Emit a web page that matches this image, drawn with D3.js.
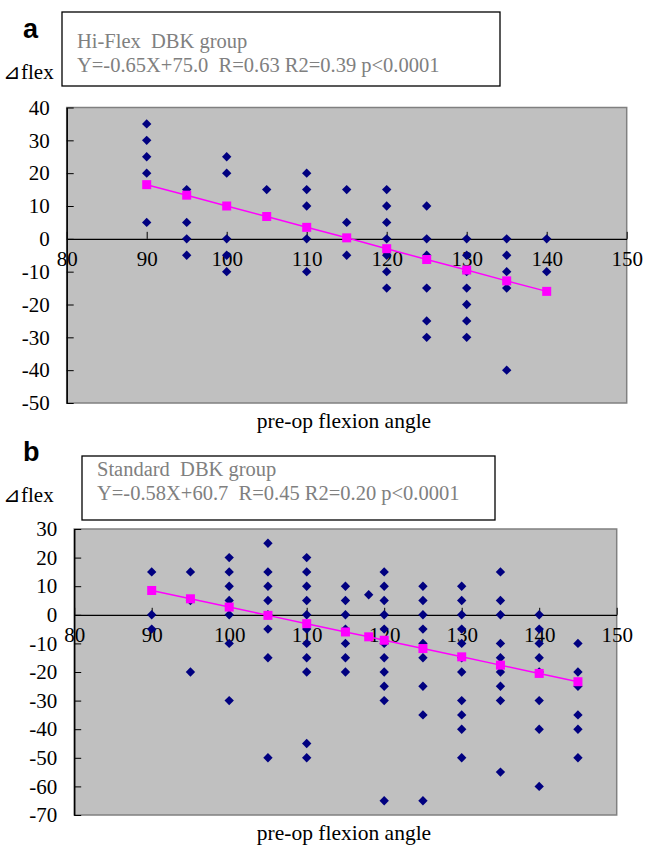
<!DOCTYPE html>
<html>
<head>
<meta charset="utf-8">
<script src="https://cdn.jsdelivr.net/npm/d3@7/dist/d3.min.js"></script>
<style>
  body { margin: 0; background: #fff; }
  svg { display: block; }
</style>
</head>
<body>
<svg id="chart" width="646" height="845"></svg>
<script>
// panel a: Hi-Flex DBK group
var hiFlexAngles = [90, 95, 100, 105, 110, 115, 120, 125, 130, 135, 140];
var hiFlexDeltas = [
    [35, 30, 25, 20, 5],
    [15, 5, 0, -5],
    [25, 20, 0, -5, -10],
    [15],
    [20, 15, 10, 0, -10],
    [15, 5, -5],
    [15, 10, 5, 0, -5, -10, -15],
    [10, 0, -5, -15, -25, -30],
    [0, -5, -10, -15, -20, -25, -30],
    [0, -5, -10, -15, -40],
    [0, -10]
];
var hiFlexTrendX = [90, 95, 100, 105, 110, 115, 120, 125, 130, 135, 140];
var hiFlexTrendY = [16.5, 13.3, 10, 6.8, 3.5, 0.3, -3, -6.3, -9.5, -12.8, -16];

// panel b: Standard DBK group
var stdAngles = [90, 95, 100, 105, 110, 115, 118, 120, 125, 130, 135, 140, 145];
var stdDeltas = [
    [15, 0, -5],
    [15, 5, -20],
    [20, 15, 10, 5, 0, -10, -30],
    [25, 15, 10, 5, 0, -5, -15, -50],
    [20, 15, 10, 5, 0, -5, -10, -15, -20, -45, -50],
    [10, 5, 0, -5, -10, -15, -20],
    [7],
    [15, 10, 5, 0, -5, -10, -15, -20, -25, -30, -65],
    [10, 5, 0, -5, -10, -15, -25, -35, -65],
    [10, 5, 0, -5, -10, -15, -20, -30, -35, -40, -50],
    [15, 5, 0, -10, -15, -20, -25, -30, -55],
    [0, -5, -10, -15, -20, -30, -40, -60],
    [-10, -20, -25, -35, -40, -50]
];
var stdTrendX = [90, 95, 100, 105, 110, 115, 118, 120, 125, 130, 135, 140, 145];
var stdTrendY = [8.5, 5.6, 2.7, -0.2, -3.1, -6, -7.7, -8.9, -11.8, -14.7, -17.6, -20.5, -23.4];

var xTicks = [80, 90, 100, 110, 120, 130, 140, 150];
var aYTicks = [40, 30, 20, 10, 0, -10, -20, -30, -40, -50];
var bYTicks = [30, 20, 10, 0, -10, -20, -30, -40, -50, -60, -70];

var serif = "'Liberation Serif', 'Times New Roman', serif";
var svg = d3.select("#chart");

function drawPanel(p) {
    var x = d3.scaleLinear().domain([80, 150]).range([p.left, p.right]);
    var y = d3.scaleLinear().domain(p.yDomain).range([p.top, p.bottom]);

    var g = svg.append("g");

    // letter
    g.append("text")
        .attr("x", 23).attr("y", p.letterY)
        .style("font-family", "'Liberation Sans', Arial, sans-serif")
        .style("font-weight", "bold")
        .style("font-size", "27px")
        .text(p.letter);

    // legend box
    g.append("rect")
        .attr("x", p.box[0]).attr("y", p.box[1])
        .attr("width", p.box[2]).attr("height", p.box[3])
        .attr("fill", "#fff").attr("stroke", "#000").attr("stroke-width", 1.3);

    g.selectAll(".legtext")
        .data(p.legend)
        .enter()
        .append("text")
        .attr("class", "legtext")
        .attr("x", p.box[0] + p.textDx)
        .attr("y", function(d, i) { return p.legendY + i * 24; })
        .style("font-family", serif)
        .style("font-size", "20.5px")
        .style("white-space", "pre")
        .attr("fill", "#808080")
        .text(function(d) { return d; });

    // y label
    g.append("text")
        .attr("x", 3).attr("y", p.flexY)
        .style("font-family", serif)
        .style("font-size", "21px")
        .text("\u22BFflex");

    // plot area
    g.append("rect")
        .attr("x", p.left).attr("y", p.top)
        .attr("width", x(150) - p.left).attr("height", p.bottom - p.top)
        .attr("fill", "#C0C0C0").attr("stroke", "#808080").attr("stroke-width", 1.5);

    // y axis
    var yAxis = d3.axisLeft(y)
        .tickValues(p.yTicks)
        .tickFormat(function(d) { return String(d); })
        .tickSizeInner(-7).tickSizeOuter(0).tickPadding(17);
    var ya = g.append("g")
        .attr("transform", "translate(" + p.left + ",0)")
        .call(yAxis);
    ya.select(".domain").attr("stroke", "#000").attr("stroke-width", 1.5);
    ya.selectAll("text").style("font-family", serif).style("font-size", "21px").attr("fill", "#000");

    // x axis at zero
    var xAxis = d3.axisBottom(x)
        .tickValues(xTicks)
        .tickFormat(function(d) { return String(d); })
        .tickSizeInner(-7).tickSizeOuter(0).tickPadding(12);
    var xa = g.append("g")
        .attr("transform", "translate(0," + y(0) + ")")
        .call(xAxis);
    xa.select(".domain").attr("stroke", "#000").attr("stroke-width", 1.3);
    xa.selectAll("text").style("font-family", serif).style("font-size", "21px").attr("fill", "#000");

    // x title
    g.append("text")
        .attr("x", 344).attr("y", p.titleY)
        .attr("text-anchor", "middle")
        .style("font-family", serif)
        .style("font-size", "21.5px")
        .text("pre-op flexion angle");

    // points
    var pts = [];
    p.angles.forEach(function(a, i) {
        p.deltas[i].forEach(function(v) { pts.push({x: a, y: v}); });
    });
    g.selectAll(".dot")
        .data(pts)
        .enter()
        .append("path")
        .attr("class", "dot")
        .attr("d", d3.symbol().type(d3.symbolSquare).size(44))
        .attr("transform", function(d) { return "translate(" + x(d.x) + "," + y(d.y) + ") rotate(45)"; })
        .attr("fill", "#000080");

    // trend line
    var trend = p.trendX.map(function(v, i) { return {x: v, y: p.trendY[i]}; });
    g.append("path")
        .datum(trend)
        .attr("d", d3.line().x(function(d) { return x(d.x); }).y(function(d) { return y(d.y); }))
        .attr("fill", "none")
        .attr("stroke", "#FF00FF")
        .attr("stroke-width", 1.5);
    g.selectAll(".tr")
        .data(trend)
        .enter()
        .append("rect")
        .attr("class", "tr")
        .attr("x", function(d) { return x(d.x) - 4.5; })
        .attr("y", function(d) { return y(d.y) - 4.5; })
        .attr("width", 9).attr("height", 9)
        .attr("fill", "#FF00FF");
}

drawPanel({
    letter: "a", letterY: 38,
    box: [62, 12, 438, 74], textDx: 15, legendY: 48,
    legend: ["Hi-Flex  DBK group", "Y=-0.65X+75.0  R=0.63 R2=0.39 p<0.0001"],
    flexY: 79,
    left: 66.7, right: 626.7, top: 107.5, bottom: 403,
    yDomain: [40, -50], yTicks: aYTicks,
    titleY: 428,
    angles: hiFlexAngles, deltas: hiFlexDeltas,
    trendX: hiFlexTrendX, trendY: hiFlexTrendY
});

drawPanel({
    letter: "b", letterY: 461,
    box: [82, 456, 413, 64], textDx: 15, legendY: 476,
    legend: ["Standard  DBK group", "Y=-0.58X+60.7  R=0.45 R2=0.20 p<0.0001"],
    flexY: 502,
    left: 74.2, right: 616.7, top: 529, bottom: 815,
    yDomain: [30, -70], yTicks: bYTicks,
    titleY: 840,
    angles: stdAngles, deltas: stdDeltas,
    trendX: stdTrendX, trendY: stdTrendY
});
</script>
</body>
</html>
